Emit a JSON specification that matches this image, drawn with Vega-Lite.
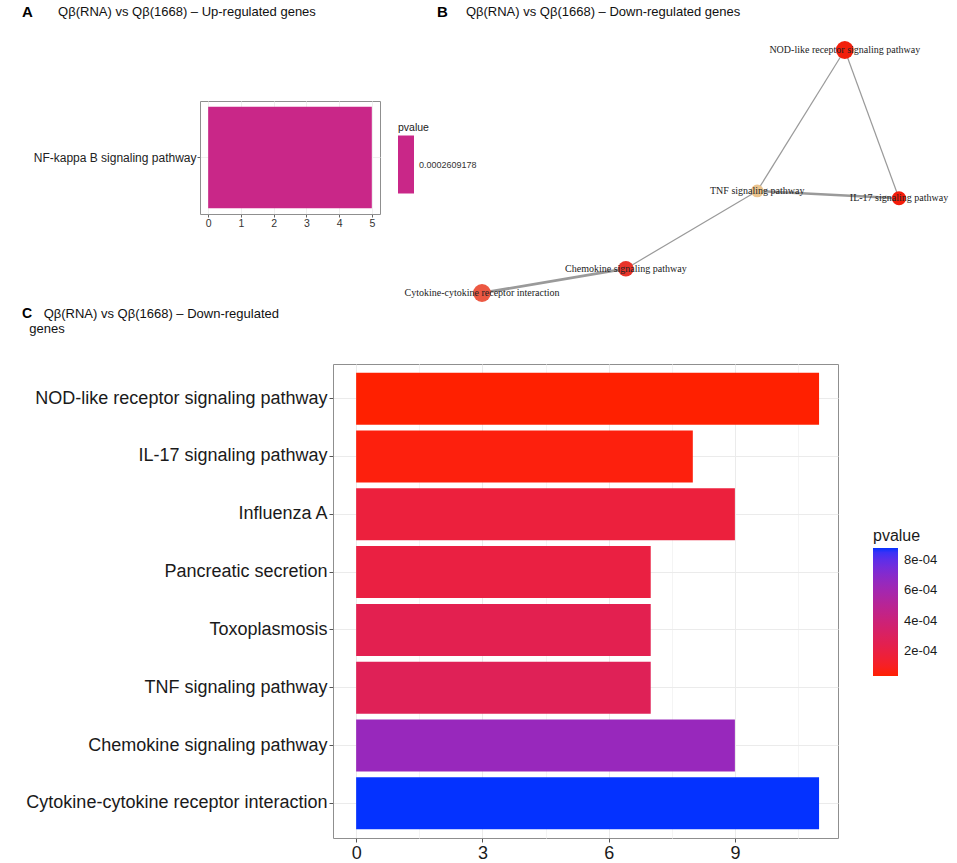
{
  "$schema": "https://vega.github.io/schema/vega-lite/v6.json",
  "background": "white",
  "padding": {"left": 21, "top": 4, "right": 0, "bottom": 0},
  "config": {
    "font": "Liberation Sans",
    "view": {"stroke": null},
    "title": {"color": "#000000", "subtitleColor": "#111111", "subtitleFont": "Liberation Sans", "font": "Liberation Sans"}
  },
  "datasets": {
    "up": [
      {"pathway": "NF-kappa B signaling pathway", "count": 5, "pvalue": 0.0002609178}
    ],
    "pathways": [
      {"pathway": "NOD-like receptor signaling pathway", "count": 11, "pvalue": 0.000035},
      {"pathway": "IL-17 signaling pathway", "count": 8, "pvalue": 0.000052},
      {"pathway": "Influenza A", "count": 9, "pvalue": 0.000179},
      {"pathway": "Pancreatic secretion", "count": 7, "pvalue": 0.000196},
      {"pathway": "Toxoplasmosis", "count": 7, "pvalue": 0.000246},
      {"pathway": "TNF signaling pathway", "count": 7, "pvalue": 0.000272},
      {"pathway": "Chemokine signaling pathway", "count": 9, "pvalue": 0.000643},
      {"pathway": "Cytokine-cytokine receptor interaction", "count": 11, "pvalue": 0.00088}
    ],
    "nodes": [
      {"name": "NOD-like receptor signaling pathway", "layout_x": 0.87, "layout_y": 1.0, "count": 11},
      {"name": "TNF signaling pathway", "layout_x": 0.66, "layout_y": 0.42, "count": 7},
      {"name": "IL-17 signaling pathway", "layout_x": 1.0, "layout_y": 0.39, "count": 8},
      {"name": "Chemokine signaling pathway", "layout_x": 0.345, "layout_y": 0.1, "count": 9},
      {"name": "Cytokine-cytokine receptor interaction", "layout_x": 0.0, "layout_y": 0.0, "count": 11}
    ],
    "edges": [
      {"source": "NOD-like receptor signaling pathway", "target": "TNF signaling pathway", "similarity": 0.2},
      {"source": "NOD-like receptor signaling pathway", "target": "IL-17 signaling pathway", "similarity": 0.2},
      {"source": "TNF signaling pathway", "target": "IL-17 signaling pathway", "similarity": 0.5},
      {"source": "TNF signaling pathway", "target": "Chemokine signaling pathway", "similarity": 0.2},
      {"source": "Chemokine signaling pathway", "target": "Cytokine-cytokine receptor interaction", "similarity": 0.55}
    ],
    "empty": []
  },
  "bounds": "full",
  "spacing": 4,
  "resolve": {"scale": {"color": "independent", "x": "independent", "y": "independent"}, "legend": {"color": "independent"}},
  "vconcat": [
    {
      "bounds": "flush",
      "spacing": 6,
      "resolve": {"scale": {"color": "independent", "x": "independent", "y": "independent", "size": "independent"}, "legend": {"color": "independent"}},
      "hconcat": [
        {
          "width": 180,
          "height": 113,
          "view": {"stroke": "#8f8f8f", "strokeWidth": 1},
          "title": {
            "text": "A",
            "subtitle": "\u200b\u00a0\u00a0\u00a0\u00a0\u00a0\u00a0\u00a0\u00a0\u00a0\u00a0Qβ(RNA) vs Qβ(1668) – Up-regulated genes",
            "anchor": "start",
            "frame": "group",
            "dx": -178,
            "offset": 81,
            "fontSize": 15,
            "fontWeight": "bold",
            "subtitleFontSize": 13,
            "subtitlePadding": -14
          },
          "data": {"name": "up"},
          "mark": {"type": "bar"},
          "encoding": {
            "y": {
              "field": "pathway", "type": "nominal",
              "scale": {"paddingInner": 0.1, "paddingOuter": 0.05},
              "axis": {"title": null, "labelFontSize": 12, "labelColor": "#222222", "tickSize": 3, "tickColor": "#666666", "labelPadding": 1, "domain": false, "grid": true, "gridColor": "#efefef", "bandPosition": 0.5, "labelLimit": 300}
            },
            "x": {
              "field": "count", "type": "quantitative",
              "scale": {"domain": [-0.25, 5.25], "nice": false, "zero": false},
              "axis": {"title": null, "values": [0, 1, 2, 3, 4, 5], "labelFontSize": 10.5, "labelColor": "#333333", "tickSize": 3, "tickColor": "#666666", "domain": false, "gridColor": "#efefef", "labelPadding": 1}
            },
            "x2": {"datum": 0},
            "color": {
              "field": "pvalue", "type": "quantitative",
              "scale": {"domain": [0.0002509178, 0.0002709178], "range": ["#c92788", "#c92788"]},
              "legend": {"orient": "none", "legendX": 198, "legendY": 22, "title": "pvalue", "titleFontSize": 10.5, "titleFontWeight": "normal", "titleColor": "#222222", "titlePadding": 2, "gradientLength": 58, "gradientThickness": 16, "gradientStrokeWidth": 0, "values": [0.0002609178], "format": ".10f", "labelFontSize": 9, "labelColor": "#333333", "labelOffset": 5, "direction": "vertical"}
            }
          }
        },
        {
          "width": 560,
          "height": 190,
          "title": {
            "text": "B",
            "subtitle": "\u200b\u00a0\u00a0\u00a0\u00a0\u00a0\u00a0\u00a0\u00a0Qβ(RNA) vs Qβ(1668) – Down-regulated genes",
            "anchor": "start",
            "frame": "group",
            "dx": 51,
            "offset": 21,
            "fontSize": 15,
            "fontWeight": "bold",
            "subtitleFontSize": 13,
            "subtitlePadding": -14
          },
          "layer": [
            {
              "data": {"name": "edges"},
              "transform": [
                {"lookup": "source", "from": {"data": {"name": "nodes"}, "key": "name", "fields": ["layout_x", "layout_y"]}, "as": ["sx", "sy"]},
                {"lookup": "target", "from": {"data": {"name": "nodes"}, "key": "name", "fields": ["layout_x", "layout_y"]}, "as": ["tx", "ty"]}
              ],
              "mark": {"type": "rule", "color": "#9a9a9a"},
              "encoding": {
                "x": {"field": "sx", "type": "quantitative", "scale": {"domain": [-0.2302, 1.1127], "nice": false, "zero": false}, "axis": null},
                "y": {"field": "sy", "type": "quantitative", "scale": {"domain": [0.0082, 0.7901], "nice": false, "zero": false}, "axis": null},
                "x2": {"field": "tx"},
                "y2": {"field": "ty"},
                "strokeWidth": {"field": "similarity", "type": "quantitative", "scale": {"domain": [0.2, 0.55], "range": [1.2, 2.8]}, "legend": null}
              }
            },
            {
              "data": {"name": "nodes"},
              "mark": {"type": "circle", "opacity": 1},
              "encoding": {
                "x": {"field": "layout_x", "type": "quantitative", "scale": {"domain": [-0.2302, 1.1127], "nice": false, "zero": false}, "axis": null},
                "y": {"field": "layout_y", "type": "quantitative", "scale": {"domain": [0.0082, 0.7901], "nice": false, "zero": false}, "axis": null},
                "size": {"field": "count", "type": "quantitative", "scale": {"domain": [7, 11], "range": [160, 320], "zero": false}, "legend": null},
                "color": {
                  "field": "name", "type": "nominal",
                  "scale": {
                    "domain": ["NOD-like receptor signaling pathway", "TNF signaling pathway", "IL-17 signaling pathway", "Chemokine signaling pathway", "Cytokine-cytokine receptor interaction"],
                    "range": ["#f2200c", "#ebc48e", "#f41c0a", "#e8342a", "#ec5842"]
                  },
                  "legend": null
                }
              }
            },
            {
              "data": {"name": "nodes"},
              "mark": {"type": "text", "font": "Liberation Serif", "fontSize": 10, "color": "#222222"},
              "encoding": {
                "x": {"field": "layout_x", "type": "quantitative", "scale": {"domain": [-0.2302, 1.1127], "nice": false, "zero": false}, "axis": null},
                "y": {"field": "layout_y", "type": "quantitative", "scale": {"domain": [0.0082, 0.7901], "nice": false, "zero": false}, "axis": null},
                "text": {"field": "name"}
              }
            }
          ]
        }
      ]
    },
    {
      "bounds": "flush",
      "spacing": 0,
      "resolve": {"scale": {"color": "independent", "x": "independent", "y": "independent"}, "legend": {"color": "independent"}},
      "hconcat": [
        {
          "width": 133,
          "height": 10,
          "data": {"name": "empty"},
          "mark": {"type": "point"}
        },
        {
          "width": 505,
          "height": 474,
          "view": {"stroke": "#8f8f8f", "strokeWidth": 1},
          "title": {
            "text": "C",
            "subtitle": ["\u200b\u00a0\u00a0\u00a0\u00a0\u00a0\u00a0Qβ(RNA) vs Qβ(1668) – Down-regulated", "\u200b\u00a0\u00a0genes"],
            "anchor": "start",
            "frame": "group",
            "dx": -311,
            "offset": 28,
            "fontSize": 14,
            "fontWeight": "bold",
            "subtitleFontSize": 13,
            "subtitlePadding": -13
          },
          "data": {"name": "pathways"},
          "mark": {"type": "bar"},
          "encoding": {
            "y": {
              "field": "pathway", "type": "nominal", "sort": null,
              "scale": {"paddingInner": 0.1, "paddingOuter": 0.15},
              "axis": {"title": null, "labelFontSize": 18, "labelColor": "#1a1a1a", "tickSize": 4, "tickColor": "#555555", "labelPadding": 2, "domain": false, "grid": true, "gridColor": "#ebebeb", "bandPosition": 0.5, "labelLimit": 400}
            },
            "x": {
              "field": "count", "type": "quantitative",
              "scale": {"domain": [-0.55, 11.45], "nice": false, "zero": false},
              "axis": {
                "title": null,
                "values": [0, 1.5, 3, 4.5, 6, 7.5, 9, 10.5],
                "labelExpr": "datum.value % 3 === 0 ? format(datum.value, 'd') : ''",
                "labelFontSize": 18, "labelColor": "#1a1a1a", "tickSize": 4,
                "tickColor": {"condition": {"test": "datum.value % 3 === 0", "value": "#555555"}, "value": "transparent"},
                "gridColor": {"condition": {"test": "datum.value % 3 === 0", "value": "#ebebeb"}, "value": "#f4f4f4"},
                "domain": false, "labelPadding": 2
              }
            },
            "x2": {"datum": 0},
            "color": {
              "field": "pvalue", "type": "quantitative",
              "scale": {"domain": [0.000035, 0.00088], "range": ["#ff2000", "#0432ff"], "interpolate": "lab", "nice": false, "zero": false},
              "legend": {"orient": "none", "legendX": 540, "legendY": 164, "title": "pvalue", "titleFontSize": 16, "titleFontWeight": "normal", "titleColor": "#1a1a1a", "titlePadding": 4, "gradientLength": 128, "gradientThickness": 25, "gradientStrokeWidth": 0, "values": [0.0002, 0.0004, 0.0006, 0.0008], "labelExpr": "replace(format(datum.value, '.0e'), 'e-', 'e-0')", "labelFontSize": 13, "labelColor": "#1a1a1a", "labelOffset": 6, "direction": "vertical"}
            }
          }
        }
      ]
    }
  ]
}
